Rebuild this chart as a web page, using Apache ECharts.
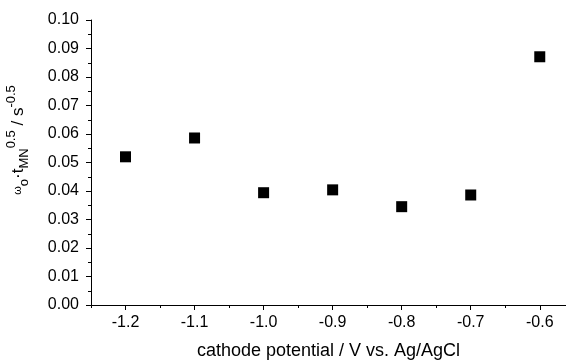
<!DOCTYPE html>
<html>
<head>
<meta charset="utf-8">
<script src="https://cdn.jsdelivr.net/npm/echarts@6/dist/echarts.min.js"></script>
<style>
  html, body { margin: 0; padding: 0; background: #fff; }
  #chart { width: 566px; height: 362px; }
</style>
</head>
<body>
<div id="chart"></div>
<script>
// cathode potential (V vs. Ag/AgCl) and omega_o * t_MN^0.5 (s^-0.5)
const potentials = [-1.2, -1.1, -1.0, -0.9, -0.8, -0.7, -0.6];
const omegaT = [0.0520, 0.0586, 0.0394, 0.0404, 0.0345, 0.0386, 0.0871];

const xMajorTicks = [-1.2, -1.1, -1.0, -0.9, -0.8, -0.7, -0.6];
const xMinorTicks = [-1.25, -1.15, -1.05, -0.95, -0.85, -0.75, -0.65];

const font = 'Liberation Sans, Arial, sans-serif';

const chart = echarts.init(document.getElementById('chart'));

chart.setOption({
  animation: false,
  backgroundColor: '#fff',
  grid: { left: 91, right: 0, top: 20, bottom: 57, containLabel: false, outerBoundsMode: 'none' },
  xAxis: [
    {
      type: 'value',
      min: -1.25,
      max: -0.562,
      name: 'cathode potential / V vs. Ag/AgCl',
      nameLocation: 'middle',
      nameGap: 37,
      nameTextStyle: { fontFamily: font, fontSize: 18, color: '#000' },
      axisLine: { show: true, onZero: false, lineStyle: { color: '#000', width: 1 } },
      axisTick: { show: true, customValues: xMajorTicks, length: 5, inside: false, lineStyle: { color: '#000' } },
      axisLabel: {
        customValues: xMajorTicks,
        margin: 10,
        fontFamily: font, fontSize: 16, color: '#000',
        formatter: v => v.toFixed(1)
      },
      splitLine: { show: false }
    },
    {
      type: 'value',
      position: 'bottom',
      min: -1.25,
      max: -0.562,
      axisLine: { show: false },
      axisTick: { show: true, customValues: xMinorTicks, length: 3, lineStyle: { color: '#000' } },
      axisLabel: { show: false },
      splitLine: { show: false }
    }
  ],
  yAxis: {
    type: 'value',
    min: 0,
    max: 0.1,
    interval: 0.01,
    name: '{w|ω}{sub|o}{b|·t}{sub|MN}{sup|0.5}{b| / s}{sup|-0.5}',
    nameLocation: 'middle',
    nameRotate: 90,
    nameGap: 60,
    nameTextStyle: {
      fontFamily: font, fontSize: 17, color: '#000',
      padding: [0, 0, 0, 45],
      rich: {
        w: { fontFamily: font, fontSize: 11, color: '#000', verticalAlign: 'middle', lineHeight: 26 },
        b: { fontFamily: font, fontSize: 17, color: '#000', verticalAlign: 'middle', lineHeight: 26 },
        sub: { fontFamily: font, fontSize: 13, color: '#000', verticalAlign: 'bottom', lineHeight: 26 },
        sup: { fontFamily: font, fontSize: 13, color: '#000', verticalAlign: 'top', lineHeight: 26 }
      }
    },
    axisLine: { show: true, lineStyle: { color: '#000', width: 1 } },
    axisTick: { show: true, length: 5, lineStyle: { color: '#000' } },
    minorTick: { show: true, splitNumber: 2, length: 3, lineStyle: { color: '#000' } },
    axisLabel: {
      margin: 12,
      fontFamily: font, fontSize: 16, color: '#000',
      formatter: v => v.toFixed(2)
    },
    splitLine: { show: false }
  },
  series: [
    {
      type: 'scatter',
      xAxisIndex: 0,
      symbol: 'rect',
      symbolSize: 11,
      itemStyle: { color: '#000', opacity: 1 },
      data: potentials.map((p, i) => [p, omegaT[i]])
    }
  ]
});
</script>
</body>
</html>
